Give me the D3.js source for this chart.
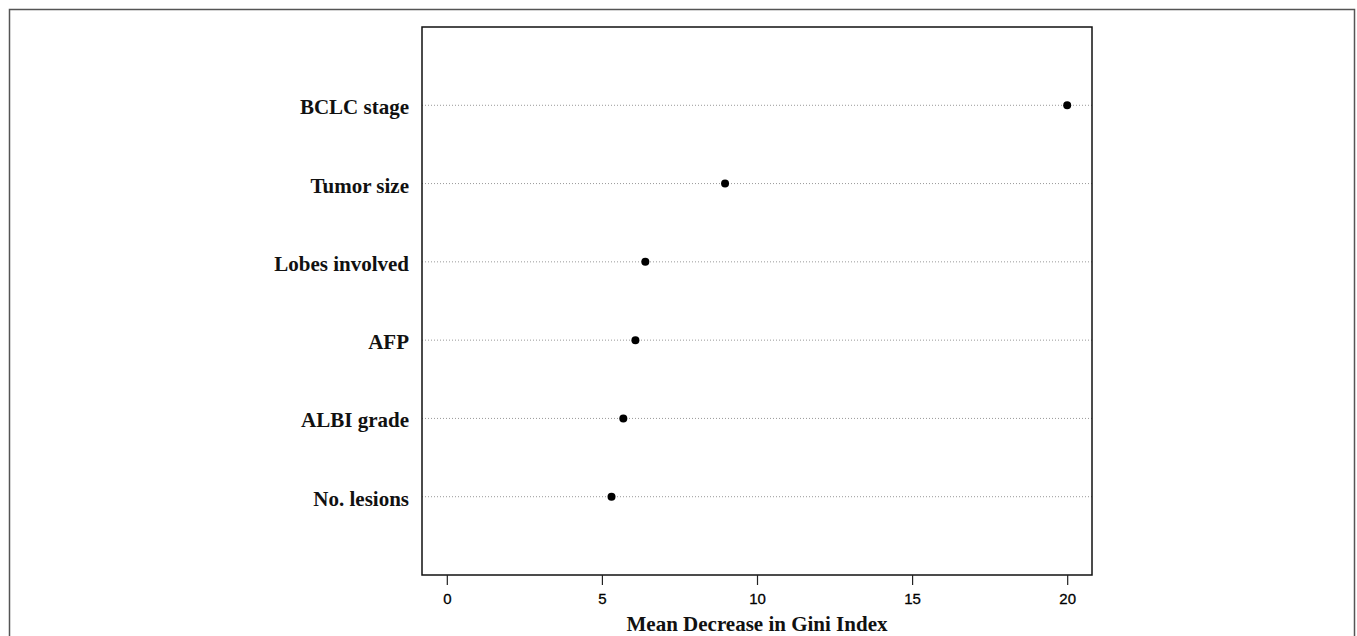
<!DOCTYPE html>
<html>
<head>
<meta charset="utf-8">
<script src="https://cdn.jsdelivr.net/npm/d3@7"></script>
<style>
  html, body { margin: 0; padding: 0; background: #fff; }
  svg { display: block; }
  .row-label { font-family: "Liberation Serif", "Times New Roman", serif; font-weight: bold; font-size: 21px; fill: #111; }
  .axis-title { font-family: "Liberation Serif", "Times New Roman", serif; font-weight: bold; font-size: 21px; fill: #111; }
  .x-axis text { font-family: "Liberation Sans", Arial, sans-serif; font-size: 15px; fill: #000; stroke: #000; stroke-width: 0.3; }
</style>
</head>
<body>
<svg id="chart" width="1357" height="636"></svg>
<script>
// Variables, bottom to top as in the dot chart
const variables = ['No. lesions', 'ALBI grade', 'AFP', 'Lobes involved', 'Tumor size', 'BCLC stage'];
// Mean decrease in Gini index
const giniValues = [5.31, 5.69, 6.08, 6.40, 8.97, 20.0];
const xTicks = [0, 5, 10, 15, 20];

const svg = d3.select('#chart');
const width = 1357;
const height = 636;

// Plot box position
const margin = { top: 27, right: 265, bottom: 61, left: 422 };
const boxW = width - margin.left - margin.right;
const boxH = height - margin.top - margin.bottom;

// Outer figure frame (bottom runs off the picture)
svg.append('rect')
  .attr('x', 9.5)
  .attr('y', 9.5)
  .attr('width', 1345)
  .attr('height', height + 20)
  .attr('fill', 'none')
  .attr('stroke', '#555')
  .attr('stroke-width', 1.5);

const chart = svg.append('g')
  .attr('transform', `translate(${margin.left},${margin.top})`);

// Scales: R style 4% padding on x, rows at 1..n within 0..n+1
const xScale = d3.scaleLinear()
  .domain([-0.8, 20.8])
  .range([0, boxW]);

const yScale = d3.scaleLinear()
  .domain([0, variables.length + 1])
  .range([boxH, 0]);

const rows = variables.map((name, i) => ({ name, value: giniValues[i], pos: i + 1 }));

// Dotted guide lines
chart.selectAll('.guide')
  .data(rows)
  .enter().append('line')
  .attr('class', 'guide')
  .attr('x1', 0)
  .attr('x2', boxW)
  .attr('y1', (d) => yScale(d.pos))
  .attr('y2', (d) => yScale(d.pos))
  .attr('stroke', '#999')
  .attr('stroke-width', 1)
  .attr('stroke-dasharray', '1,2');

// Points
chart.selectAll('.dot')
  .data(rows)
  .enter().append('circle')
  .attr('class', 'dot')
  .attr('cx', (d) => xScale(d.value))
  .attr('cy', (d) => yScale(d.pos))
  .attr('r', 4)
  .attr('fill', '#000');

// Row labels
chart.selectAll('.row-label')
  .data(rows)
  .enter().append('text')
  .attr('class', 'row-label')
  .attr('x', -13)
  .attr('y', (d) => yScale(d.pos) + 9)
  .attr('text-anchor', 'end')
  .text((d) => d.name);

// Box
chart.append('rect')
  .attr('width', boxW)
  .attr('height', boxH)
  .attr('fill', 'none')
  .attr('stroke', '#111')
  .attr('stroke-width', 1.5);

// X axis (ticks only, the box supplies the line)
const xAxis = chart.append('g')
  .attr('class', 'x-axis')
  .attr('transform', `translate(0,${boxH})`)
  .call(d3.axisBottom(xScale).tickValues(xTicks).tickSize(10).tickPadding(8).tickSizeOuter(0));
xAxis.select('.domain').remove();
xAxis.selectAll('line').attr('stroke', '#222').attr('stroke-width', 1.2);

// Axis title
chart.append('text')
  .attr('class', 'axis-title')
  .attr('x', boxW / 2)
  .attr('y', boxH + 56)
  .attr('text-anchor', 'middle')
  .text('Mean Decrease in Gini Index');
</script>
</body>
</html>
